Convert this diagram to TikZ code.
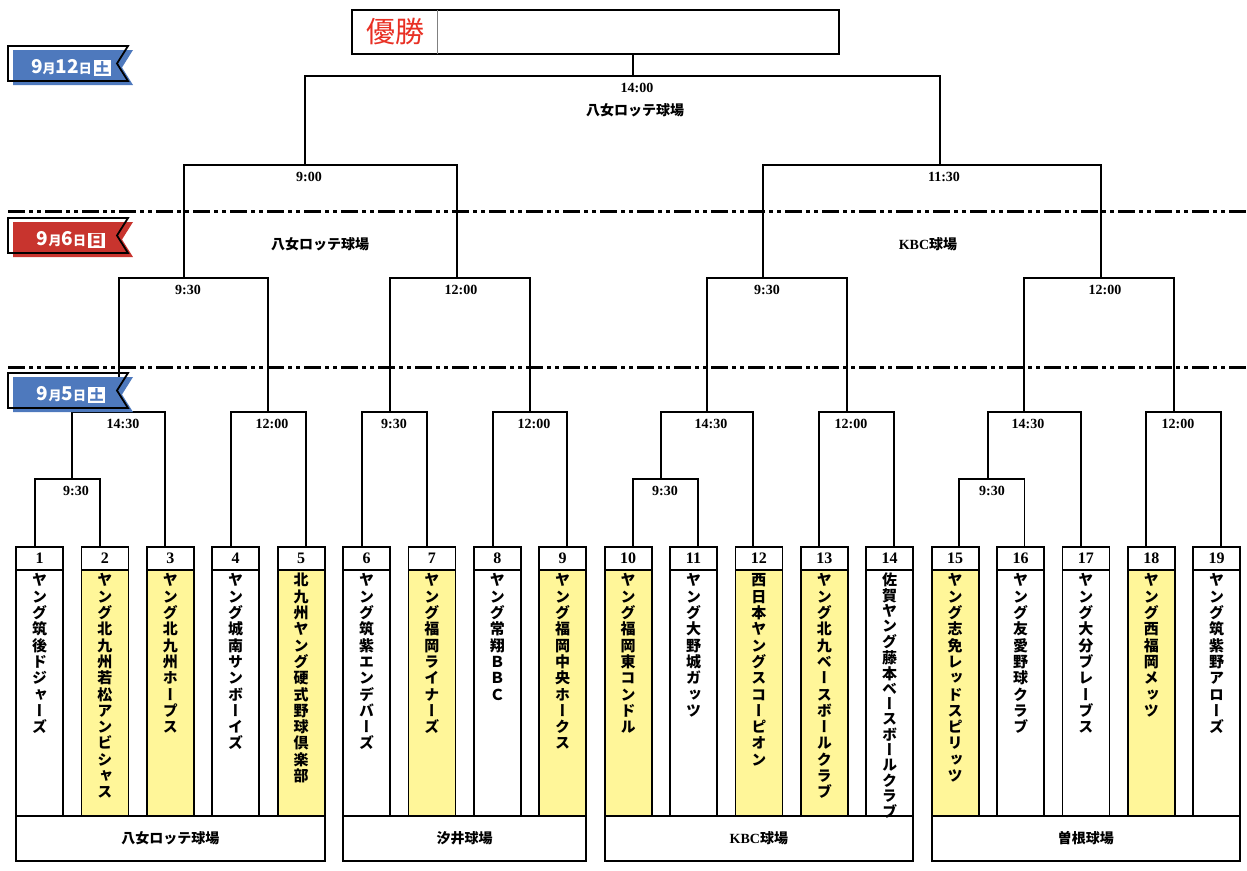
\documentclass[tikz,border=0pt]{standalone}
\usepackage{fontspec}
\usepackage{tikz}
\setmainfont{Liberation Serif}
\newfontfamily\jp{Noto Sans CJK JP}
\newfontfamily\jpv{Noto Sans CJK JP}[RawFeature=+vert]
\usetikzlibrary{positioning}

\definecolor{flagblue}{RGB}{78,121,189}
\definecolor{flagred}{RGB}{200,52,46}
\definecolor{teamyellow}{RGB}{255,246,153}
\definecolor{winred}{RGB}{232,48,36}

% vertical names: one character per line
\newdimen\vpitch
\def\vend{}
\def\vloop#1{\ifx#1\vend\else\hbox to 17pt{\hss\vrule height .8\vpitch depth .2\vpitch width 0pt\relax #1\hss}\expandafter\vloop\fi}
\newcommand\vtext[1]{\vbox{\offinterlineskip\expandafter\vloop#1\vend}}

% date ribbons
\newcommand\dnum[1]{{\fontsize{19}{19}\selectfont #1}}
\newcommand\dsm[1]{{\fontsize{13}{13}\selectfont #1}}
\newcommand\dayflag[6]{%
  \fill[#3] (#1+5,#2+4) -- ++(120,0) -- ++(-11,17.5) -- ++(11,17.5) -- ++(-120,0) -- cycle;
  \draw[line width=1.8pt] (#1,#2) -- ++(120,0) -- ++(-11,17.5) -- ++(11,17.5) -- ++(-120,0) -- cycle;
  \node (#6) [text=white, font=\jp\bfseries] at (#1+63,#2+21.5)
    {#4\hspace{2pt}\setlength\fboxsep{1.5pt}\colorbox{white}{\textcolor{#3}{\fontsize{14}{14}\selectfont #5}}};
}

\begin{document}
\begin{tikzpicture}[x=1pt, y=-1pt, line width=1.8pt,
    numbox/.style={draw, outer sep=0pt, minimum width=47pt, minimum height=23pt, inner sep=0pt,
      font=\bfseries\fontsize{16}{16}\selectfont},
    teambox/.style={draw, outer sep=0pt, minimum width=47pt, minimum height=246pt, inner sep=0pt},
    teamname/.style={anchor=north, inner sep=0pt, font=\jpv\bfseries\fontsize{15}{15}\selectfont},
    venuebox/.style={draw, outer sep=0pt, minimum height=45pt, inner sep=0pt, anchor=north west,
      font=\jp\bfseries\fontsize{14}{14}\selectfont},
    venue/.style={font=\jp\bfseries\fontsize{14}{14}\selectfont},
    timelbl/.style={inner sep=0pt, xshift=4pt, yshift=-12pt, font=\bfseries\fontsize{14}{14}\selectfont},
    daysep/.style={line width=3pt, dash pattern=on 17pt off 4pt on 4pt off 4pt on 4pt off 4pt}]

  \useasboundingbox (0,0) rectangle (1247,870);

  % champion box
  \node (champ) [draw, outer sep=0pt, anchor=north west, minimum width=487pt, minimum height=44pt] at (352,10) {};
  \draw[line width=.8pt, gray] ([xshift=85pt]champ.north west) -- ([xshift=85pt]champ.south west);
  \node (yusho) [text=winred, font=\jp\fontsize{29}{29}\selectfont] at (395,32) {優勝};

  % teams
  \foreach \i/\nm/\fl/\dx/\vp in {
      1/ヤング筑後ドジャーズ/white/-4.5/16.3,
      2/ヤング北九州若松アンビシャス/teamyellow/-5/16.3,
      3/ヤング北九州ホープス/teamyellow/-5/16.3,
      4/ヤング城南サンボーイズ/white/-5/16.3,
      5/北九州ヤング硬式野球倶楽部/teamyellow/5/16.3,
      6/ヤング筑紫エンデバーズ/white/-4.5/16.3,
      7/ヤング福岡ライナーズ/teamyellow/-5/16.3,
      8/ヤング常翔ＢＢＣ/white/-4/16.3,
      9/ヤング福岡中央ホークス/teamyellow/4/16.3,
      10/ヤング福岡東コンドル/teamyellow/5/16.3,
      11/ヤング大野城ガッツ/white/4.5/16.3,
      12/西日本ヤングスコーピオン/teamyellow/-6/16.3,
      13/ヤング北九ベースボールクラブ/teamyellow/-5/16.3,
      14/佐賀ヤング藤本ベースボールクラブ/white/4/15.1,
      15/ヤング志免レッドスピリッツ/teamyellow/4/16.3,
      16/ヤング友愛野球クラブ/white/4/16.3,
      17/ヤング大分ブレーブス/white/-5/16.3,
      18/ヤング西福岡メッツ/teamyellow/-5/16.3,
      19/ヤング筑紫野アローズ/white/4/16.3}{
    \pgfmathsetmacro\cx{39.5+(\i-1)*65.4}
    \node (n\i) [numbox] at (\cx,558.5) {\i};
    \node (t\i) [teambox, fill=\fl, anchor=north] at (n\i.south) {};
    \node (name\i) [teamname] at ([yshift=-2pt]t\i.north) {\vpitch=\vp pt\relax\vtext{\nm}};
    \coordinate (s\i) at ([xshift=\dx pt]n\i.north);
  }

  % grounds of the first days
  \node (v1) [venuebox, minimum width=308.6pt] at (t1.south west) {八女ロッテ球場};
  \node (v2) [venuebox, minimum width=243.2pt] at (t6.south west) {汐井球場};
  \node (v3) [venuebox, minimum width=308.6pt] at (t10.south west) {{\rmfamily KBC}球場};
  \node (v4) [venuebox, minimum width=308.6pt] at (t15.south west) {曽根球場};

  % bracket
  \foreach \m/\x/\y/\a/\b/\tm in {
      m1/72/479/s1/s2/9:30, m10/661/479/s10/s11/9:30, m15/988/479/s15/s16/9:30,
      ma/119/412/m1/s3/14:30, mb/268/412/s4/s5/12:00, mc/390/412/s6/s7/9:30,
      md/530/412/s8/s9/12:00, me/707/412/m10/s12/14:30, mf/847/412/s13/s14/12:00,
      mg/1024/412/m15/s17/14:30, mh/1174/412/s18/s19/12:00,
      mi/184/278/ma/mb/9:30, mj/457/278/mc/md/12:00,
      mk/763/278/me/mf/9:30, ml/1101/278/mg/mh/12:00,
      mm/305/165/mi/mj/9:00, mn/940/165/mk/ml/11:30,
      mw/633/76/mm/mn/14:00}{
    \coordinate (\m) at (\x,\y);
    \draw (\a) |- (\m) -| (\b);
    \node (\m t) [timelbl] at (\m) {\tm};
  }
  \draw (mw) -- (mw |- champ.south);

  % grounds of the later days
  \node (vfin) [venue] at (635,110) {八女ロッテ球場};
  \node (vsl) [venue] at (320,244) {八女ロッテ球場};
  \node (vsr) [venue] at (928,244) {{\rmfamily KBC}球場};

  % day borders
  \draw[daysep] (8,211) -- (1247,211);
  \draw[daysep] (8,367) -- (1247,367);

  \dayflag{8}{46}{flagblue}{\dnum{9}\dsm{月}\dnum{12}\dsm{日}}{土}{day12}
  \dayflag{8}{218}{flagred}{\dnum{9}\dsm{月}\dnum{6}\dsm{日}}{日}{day6}
  \dayflag{8}{373}{flagblue}{\dnum{9}\dsm{月}\dnum{5}\dsm{日}}{土}{day5}
\end{tikzpicture}
\end{document}
